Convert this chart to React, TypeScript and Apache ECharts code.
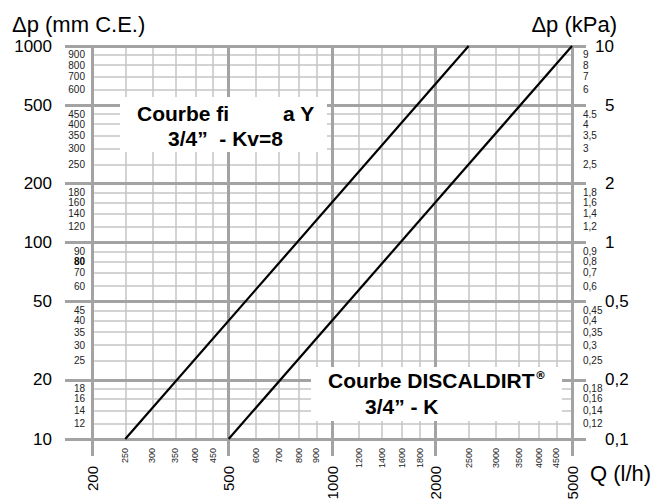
import React, { useEffect, useRef } from "react";
import * as echarts from "echarts";

// Flow rate Q (l/h) grid values
const xMajor = [200, 500, 1000, 2000, 5000];
const xMinor = [250, 300, 350, 400, 450, 600, 700, 800, 900, 1200, 1400, 1600, 1800, 2500, 3000, 3500, 4000, 4500];
// Pressure drop (mm C.E.)
const yMajor = [10, 20, 50, 100, 200, 500, 1000];
const yMinor = [12, 14, 16, 18, 25, 30, 35, 40, 45, 60, 70, 80, 90, 120, 140, 160, 180, 250, 300, 350, 400, 450, 600, 700, 800, 900];
// Pressure drop (kPa)
const kMajor = [0.1, 0.2, 0.5, 1, 2, 5];
const kTop = [10];
const kTicks = [0.1, 0.2, 0.5, 1, 2, 5, 10];
const kMinor = [0.12, 0.14, 0.16, 0.18, 0.25, 0.3, 0.35, 0.4, 0.45, 0.6, 0.7, 0.8, 0.9, 1.2, 1.4, 1.6, 1.8, 2.5, 3, 3.5, 4, 4.5, 6, 7, 8, 9];
// Curves [Q l/h, Δp mm C.E.]
const filterYCurve = [[250, 10], [2500, 1000]];
const discaldirtCurve = [[500, 10], [5000, 1000]];

const FONT = "'Liberation Sans', Arial, sans-serif";
const MAJOR = "#a3a3a3";
const MINOR = "#c4c4c4";

export default function App() {
  const ref = useRef<HTMLDivElement>(null);
  useEffect(() => {
    document.body.style.margin = "0";
    const chart = echarts.init(ref.current!, null, { renderer: "svg" });
    const kFmt = (v: number) => (v === 4.5 ? "4.5" : String(v).replace(".", ","));
    chart.setOption({
      animation: false,
      textStyle: { fontFamily: FONT },
      grid: { left: 92, right: 84, top: 46, bottom: 62, containLabel: false, outerBoundsMode: "none" },
      xAxis: [
        {
          type: "log", logBase: 10, min: 200, max: 5000, position: "bottom", z: 1,
          axisLine: { show: false },
          axisTick: { show: true, customValues: xMajor, length: 17, lineStyle: { color: MAJOR, width: 3 } },
          axisLabel: { customValues: xMajor, hideOverlap: false, rotate: 90, margin: 27, fontSize: 15, color: "#000", fontFamily: FONT, formatter: (v: number) => String(v) },
          splitLine: { show: true, lineStyle: { color: MAJOR, width: 3 } },
        },
        {
          type: "log", logBase: 10, min: 200, max: 5000, position: "bottom", z: 0,
          axisLine: { show: false },
          axisTick: { show: false, customValues: xMinor },
          axisLabel: { customValues: xMinor, hideOverlap: false, rotate: 90, margin: 9, fontSize: 9, color: "#222", fontFamily: FONT, formatter: (v: number) => String(v) },
          splitLine: { show: true, lineStyle: { color: MINOR, width: 1.5 } },
        },
      ],
      yAxis: [
        {
          type: "log", logBase: 10, min: 10, max: 1000, position: "left", z: 1,
          axisLine: { show: false },
          axisTick: { show: true, customValues: yMajor, length: 27, lineStyle: { color: MAJOR, width: 3 } },
          axisLabel: { customValues: yMajor, hideOverlap: false, margin: 40, fontSize: 17, padding: [5, 0, 0, 0], color: "#000", fontFamily: FONT, formatter: (v: number) => String(v) },
          splitLine: { show: true, lineStyle: { color: MAJOR, width: 3 } },
        },
        {
          type: "log", logBase: 10, min: 10, max: 1000, position: "left", z: 0,
          axisLine: { show: false },
          axisTick: { show: false, customValues: yMinor },
          axisLabel: {
            customValues: yMinor, hideOverlap: false, margin: 7, fontSize: 10, color: "#222", fontFamily: FONT,
            formatter: (v: number) => (v === 80 ? "{b|80}" : String(v)),
            rich: { b: { fontSize: 10, fontWeight: "bold", color: "#000", fontFamily: FONT } },
          },
          splitLine: { show: true, lineStyle: { color: MINOR, width: 1.5 } },
        },
        {
          type: "log", logBase: 10, min: 0.1, max: 10, position: "right", z: 1,
          axisLine: { show: false },
          axisTick: { show: true, customValues: kTicks, length: 14, lineStyle: { color: MAJOR, width: 3 } },
          axisLabel: { customValues: kMajor, hideOverlap: false, margin: 33, fontSize: 17, padding: [4, 0, 0, 0], color: "#000", fontFamily: FONT, formatter: kFmt },
          splitLine: { show: false },
        },
        {
          type: "log", logBase: 10, min: 0.1, max: 10, position: "right", z: 0,
          axisLine: { show: false },
          axisTick: { show: false, customValues: kMinor },
          axisLabel: { customValues: kMinor, hideOverlap: false, margin: 11, fontSize: 10, color: "#222", fontFamily: FONT, formatter: kFmt },
          splitLine: { show: false },
        },
        {
          type: "log", logBase: 10, min: 0.1, max: 10, position: "right", z: 0,
          axisLine: { show: false },
          axisTick: { show: false, customValues: kTop },
          axisLabel: { customValues: kTop, hideOverlap: false, margin: 23, fontSize: 17, padding: [4, 0, 0, 0], color: "#000", fontFamily: FONT, formatter: kFmt },
          splitLine: { show: false },
        },
      ],
      series: [
        {
          type: "line", name: "Filtre a Y", xAxisIndex: 0, yAxisIndex: 0, data: filterYCurve,
          symbol: "none", z: 5, lineStyle: { color: "#000", width: 2.2 },
        },
        {
          type: "line", name: "DISCALDIRT", xAxisIndex: 0, yAxisIndex: 0, data: discaldirtCurve,
          symbol: "none", z: 5, lineStyle: { color: "#000", width: 2.2 },
        },
      ],
      graphic: [
        { type: "rect", z: 3, shape: { x: 120, y: 97, width: 207, height: 55 }, style: { fill: "#fff" } },
        { type: "rect", z: 3, shape: { x: 311, y: 367, width: 251, height: 54 }, style: { fill: "#fff" } },
        { type: "text", z: 6, x: 137, y: 113, style: { text: "Courbe fi", font: `bold 21px ${FONT}`, fill: "#000", verticalAlign: "middle" } },
        { type: "text", z: 6, x: 283, y: 113, style: { text: "a Y", font: `bold 21px ${FONT}`, fill: "#000", verticalAlign: "middle" } },
        { type: "text", z: 6, x: 168, y: 138, style: { text: "3/4”  - Kv=8", font: `bold 21px ${FONT}`, fill: "#000", verticalAlign: "middle" } },
        { type: "text", z: 6, x: 328, y: 380, style: { text: "Courbe DISCALDIRT", font: `bold 21px ${FONT}`, fill: "#000", verticalAlign: "middle" } },
        { type: "text", z: 6, x: 535, y: 375, style: { text: "®", font: `bold 11px 'DejaVu Sans', sans-serif`, fill: "#000", verticalAlign: "middle" } },
        { type: "text", z: 6, x: 365, y: 406, style: { text: "3/4” - K", font: `bold 21px ${FONT}`, fill: "#000", verticalAlign: "middle" } },
        { type: "text", z: 6, x: 12, y: 24, style: { text: "Δp (mm C.E.)", font: `22px ${FONT}`, fill: "#000", verticalAlign: "middle" } },
        { type: "text", z: 6, x: 617, y: 24, style: { text: "Δp (kPa)", font: `22px ${FONT}`, fill: "#000", verticalAlign: "middle", align: "right" } },
        { type: "text", z: 6, x: 590, y: 473, style: { text: "Q (l/h)", font: `22px ${FONT}`, fill: "#000", verticalAlign: "middle" } },
      ],
    });
    return () => chart.dispose();
  }, []);
  return <div ref={ref} style={{ width: 656, height: 501 }} />;
}
